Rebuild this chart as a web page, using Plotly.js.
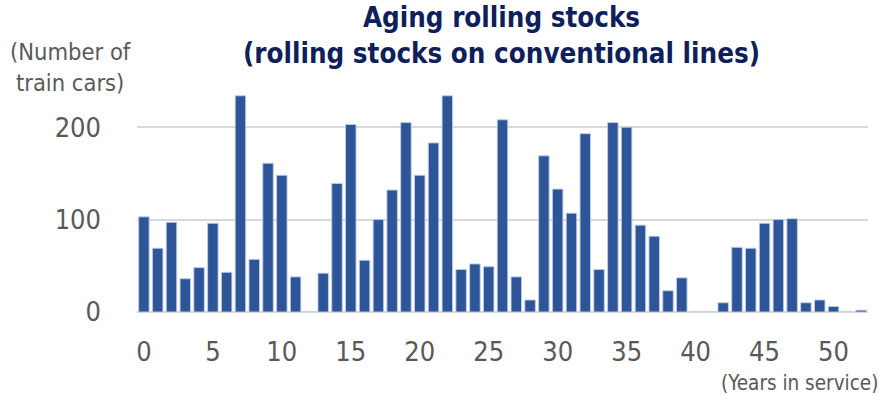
<!DOCTYPE html>
<html>
<head>
<meta charset="utf-8">
<script src="https://cdn.plot.ly/plotly-3.0.1.min.js"></script>
<style>
  html, body { margin: 0; padding: 0; background: #fff; }
  #chart { width: 879px; height: 395px; }
</style>
</head>
<body>
<div id="chart"></div>
<script>
// Years in service (x) and number of train cars at each age (y)
const yearsInService = [
  0, 1, 2, 3, 4, 5, 6, 7, 8, 9,
  10, 11, 12, 13, 14, 15, 16, 17, 18, 19,
  20, 21, 22, 23, 24, 25, 26, 27, 28, 29,
  30, 31, 32, 33, 34, 35, 36, 37, 38, 39,
  40, 41, 42, 43, 44, 45, 46, 47, 48, 49,
  50, 51, 52
];
const trainCars = [
  103, 69, 97, 36, 48, 96, 43, 234, 57, 161,
  148, 38, 0, 42, 139, 203, 56, 100, 132, 205,
  148, 183, 234, 46, 52, 49, 208, 38, 13, 169,
  133, 107, 193, 46, 205, 200, 94, 82, 23, 37,
  0, 0, 10, 70, 69, 96, 100, 101, 10, 13,
  6, 0, 2
];
const xTickVals = [0, 5, 10, 15, 20, 25, 30, 35, 40, 45, 50];
const yTickVals = [0, 100, 200];

const fontFamily = '"DejaVu Sans Condensed", "DejaVu Sans", Verdana, sans-serif';
const grey = '#595959';
const navy = '#0E1F5B';

const trace = {
  type: 'bar',
  x: yearsInService,
  y: trainCars,
  marker: {
    color: '#2E5597',
    line: { color: 'rgba(190,205,235,0.9)', width: 1 }
  },
  hoverinfo: 'x+y'
};

const layout = {
  width: 879,
  height: 395,
  margin: { l: 137, r: 11, t: 81, b: 83 },
  paper_bgcolor: '#ffffff',
  plot_bgcolor: '#ffffff',
  bargap: 0.24,
  showlegend: false,
  xaxis: {
    range: [-0.5, 52.5],
    tickmode: 'array',
    tickvals: xTickVals,
    ticktext: xTickVals.map(String),
    showgrid: false,
    zeroline: false,
    showline: false,
    ticks: '',
    ticklabelstandoff: 21,
    tickfont: { family: fontFamily, size: 27, color: grey },
    fixedrange: true
  },
  yaxis: {
    range: [0, 250],
    tickmode: 'array',
    tickvals: yTickVals,
    ticktext: yTickVals.map(String),
    showgrid: true,
    gridcolor: '#D9D9D9',
    gridwidth: 2,
    zeroline: true,
    zerolinecolor: '#D9D9D9',
    zerolinewidth: 2,
    showline: false,
    ticks: '',
    ticklabelstandoff: 35,
    tickfont: { family: fontFamily, size: 27, color: grey },
    fixedrange: true
  },
  annotations: [
    {
      // chart title, two lines
      text: '<b>Aging rolling stocks<br>(rolling stocks on conventional lines)</b>',
      xref: 'paper', yref: 'paper',
      x: 0.498, y: 1.197,
      xanchor: 'center', yanchor: 'middle',
      align: 'center',
      showarrow: false,
      font: { family: fontFamily, size: 27.5, color: navy }
    },
    {
      text: '(Number of<br>train cars)',
      xref: 'paper', yref: 'paper',
      x: -0.005, y: 1.06,
      xanchor: 'right', yanchor: 'middle',
      align: 'center',
      showarrow: false,
      font: { family: fontFamily, size: 23.5, color: grey }
    },
    {
      text: '(Years in service)',
      xref: 'paper', yref: 'paper',
      x: 1.016, y: -0.307,
      xanchor: 'right', yanchor: 'middle',
      showarrow: false,
      font: { family: fontFamily, size: 20.5, color: grey }
    }
  ]
};

Plotly.newPlot('chart', [trace], layout, { displayModeBar: false, staticPlot: true });
</script>
</body>
</html>
